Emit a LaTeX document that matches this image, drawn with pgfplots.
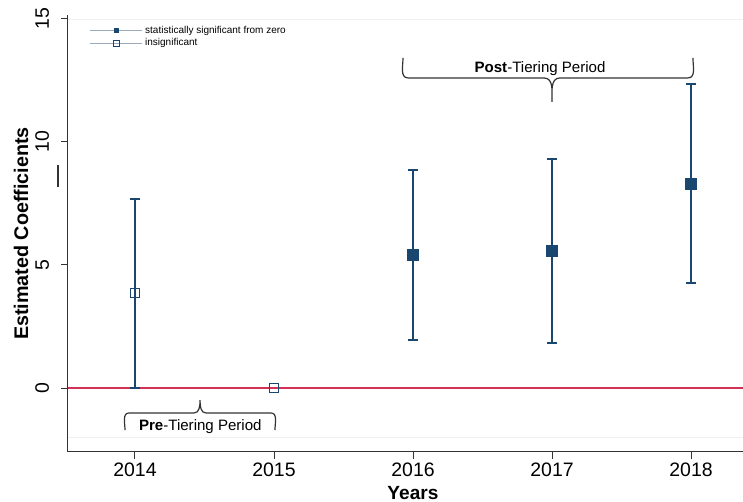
\documentclass[border=0pt]{standalone}
\usepackage{pgfplots}
\pgfplotsset{compat=1.18}
\usepackage{fontspec}
\setmainfont{Liberation Sans}
\definecolor{navy}{HTML}{1A476F}
\definecolor{zred}{RGB}{212,48,86}
\definecolor{legline}{HTML}{9AABBD}
\definecolor{axgray}{HTML}{333333}

\pgfplotstableread{
x y ep em
2016 5.41 3.45 3.46
2017 5.57 3.74 3.74
2018 8.31 4.05 4.05
}\sigdata
\pgfplotstableread{
x y ep em
2014 3.86 3.82 3.86
}\insigdata
\pgfplotstableread{
x y
2015 0.0
}\insigzero

\begin{document}
\begin{tikzpicture}
\begin{axis}[
  scale only axis, width=506.25pt, height=327.75pt,
  xmin=2013.518, xmax=2018.374, ymin=-2.6, ymax=15.16,
  separate axis lines,
  axis x line*=bottom, axis y line*=left,
  x axis line style={-, axgray, line width=0.75pt},
  y axis line style={-, axgray, line width=0.75pt},
  xtick={2014,2015,2016,2017,2018},
  ytick={0,5,10,15},
  tick align=outside, major tick length=5pt,
  tick style={axgray, line width=0.75pt},
  /pgf/number format/assume math mode=true,
  /pgf/number format/1000 sep={},
  tick label style={font=\fontsize{14.6}{16}\selectfont},
  yticklabel style={rotate=90, anchor=south, inner ysep=9pt},
  xlabel={\textbf{Years}}, ylabel={\textbf{Estimated Coefficients}},
  every axis x label/.style={at={(axis description cs:0.511,-0.0938)}, anchor=center, font=\fontsize{14.3}{16}\selectfont},
  every axis y label/.style={at={(axis description cs:-0.0695,0.5)}, rotate=90, anchor=center, font=\fontsize{14.8}{17}\selectfont},
  clip=false,
  legend style={at={(axis description cs:0.03,0.985)}, anchor=north west, draw=none, fill=none,
    font=\fontsize{7.5}{8}\selectfont, row sep=-1.5pt, inner sep=1pt, cells={anchor=west}},
  legend image code/.code={\draw[mark repeat=2,mark phase=2,#1] plot coordinates {(0pt,0pt) (19.5pt,0pt) (39pt,0pt)};},
]
\addlegendimage{legline, line width=0.5pt, mark=square*, mark size=1.4pt, mark options={navy, fill=navy}}
\addlegendentry{statistically significant from zero}
\addlegendimage{legline, line width=0.5pt, mark=square, mark size=2.2pt, mark options={navy, line width=0.6pt}}
\addlegendentry{insignificant}

\addplot[forget plot, gray!12, line width=0.6pt] coordinates {(2013.518,-2) (2018.374,-2)};
\addplot[forget plot, gray!12, line width=0.6pt] coordinates {(2013.518,15) (2018.374,15)};
\addplot[forget plot, zred, line width=1.8pt] coordinates {(2013.518,0) (2018.374,0)};

\addplot[forget plot, navy, only marks, mark=square*, mark size=4pt,
  error bars/.cd, y dir=both, y explicit,
  error bar style={line width=1.5pt, navy},
  error mark options={rotate=90, mark size=3.4pt, line width=1.5pt, navy}]
  table[x=x, y=y, y error plus=ep, y error minus=em] {\sigdata};
\addplot[forget plot, navy, only marks, mark=square, mark size=3.5pt, mark options={line width=1.1pt},
  error bars/.cd, y dir=both, y explicit,
  error bar style={line width=1.5pt, navy},
  error mark options={rotate=90, mark size=3.4pt, line width=1.5pt, navy}]
  table[x=x, y=y, y error plus=ep, y error minus=em] {\insigdata};
\addplot[forget plot, navy, only marks, mark=square, mark size=3.5pt, mark options={line width=1.1pt}]
  table[x=x, y=y] {\insigzero};

\draw[axgray, line width=0.9pt] (axis cs:2015.928,13.415) to[out=-90,in=180] (axis cs:2015.964,12.602)
  -- (axis cs:2016.942,12.602) to[out=0,in=90] (axis cs:2017,11.626) to[out=90,in=180] (axis cs:2017.058,12.602)
  -- (axis cs:2017.978,12.602) to[out=0,in=-90] (axis cs:2018.014,13.415);
\node[font=\fontsize{11.3}{13}\selectfont] at (axis cs:2016.914,13.0) {\textbf{Post}-Tiering Period};

\draw[axgray, line width=0.9pt] (axis cs:2013.928,-1.707) to[out=90,in=180] (axis cs:2013.957,-1.016)
  -- (axis cs:2014.424,-1.016) to[out=0,in=-90] (axis cs:2014.468,-0.488) to[out=-90,in=180] (axis cs:2014.511,-1.016)
  -- (axis cs:2014.978,-1.016) to[out=0,in=90] (axis cs:2015.007,-1.707);
\node[font=\fontsize{11.3}{13}\selectfont] at (axis cs:2014.47,-1.585) {\textbf{Pre}-Tiering Period};

\draw[axgray, line width=0.9pt] (axis cs:2013.446,9.07) -- (axis cs:2013.446,8.17);

\coordinate (bl) at (rel axis cs:0,0);
\coordinate (tr) at (rel axis cs:1,1);
\end{axis}
\pgfresetboundingbox
\path[use as bounding box] ([xshift=-51pt,yshift=-37.5pt]bl) rectangle ([yshift=11.25pt]tr);
\end{tikzpicture}
\end{document}
